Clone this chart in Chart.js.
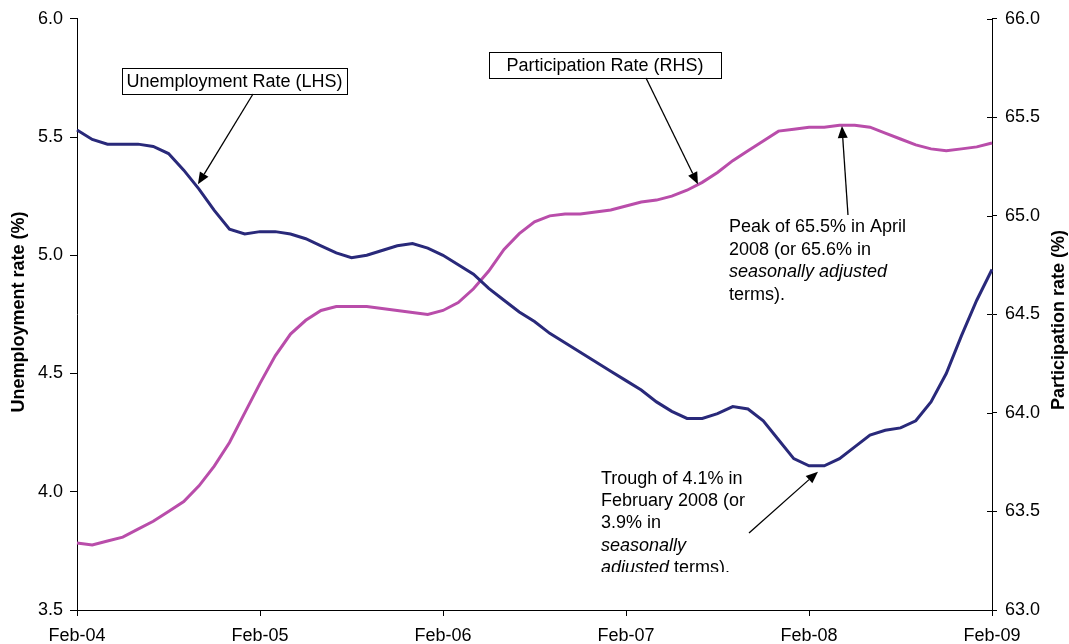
<!DOCTYPE html>
<html>
<head>
<meta charset="utf-8">
<script src="https://cdn.jsdelivr.net/npm/chart.js@4"></script>
<style>
html,body{margin:0;padding:0;background:#fff;}
canvas{display:block;}
</style>
</head>
<body>
<canvas id="c" width="1069" height="644"></canvas>
<script>
const months = ['Feb-04','Mar-04','Apr-04','May-04','Jun-04','Jul-04','Aug-04','Sep-04','Oct-04','Nov-04','Dec-04','Jan-05',
  'Feb-05','Mar-05','Apr-05','May-05','Jun-05','Jul-05','Aug-05','Sep-05','Oct-05','Nov-05','Dec-05','Jan-06',
  'Feb-06','Mar-06','Apr-06','May-06','Jun-06','Jul-06','Aug-06','Sep-06','Oct-06','Nov-06','Dec-06','Jan-07',
  'Feb-07','Mar-07','Apr-07','May-07','Jun-07','Jul-07','Aug-07','Sep-07','Oct-07','Nov-07','Dec-07','Jan-08',
  'Feb-08','Mar-08','Apr-08','May-08','Jun-08','Jul-08','Aug-08','Sep-08','Oct-08','Nov-08','Dec-08','Jan-09',
  'Feb-09'];
const tickLabels = ['Feb-04','Feb-05','Feb-06','Feb-07','Feb-08','Feb-09'];

const unemployment = [5.53,5.49,5.47,5.47,5.47,5.46,5.43,5.36,5.28,5.19,5.11,5.09,
  5.10,5.10,5.09,5.07,5.04,5.01,4.99,5.00,5.02,5.04,5.05,5.03,
  5.00,4.96,4.92,4.86,4.81,4.76,4.72,4.67,4.63,4.59,4.55,4.51,
  4.47,4.43,4.38,4.34,4.31,4.31,4.33,4.36,4.35,4.30,4.22,4.14,
  4.11,4.11,4.14,4.19,4.24,4.26,4.27,4.30,4.38,4.50,4.66,4.81,
  4.94];
const participation = [63.34,63.33,63.35,63.37,63.41,63.45,63.50,63.55,63.63,63.73,63.85,64.00,
  64.15,64.29,64.40,64.47,64.52,64.54,64.54,64.54,64.53,64.52,64.51,64.50,
  64.52,64.56,64.63,64.72,64.83,64.91,64.97,65.00,65.01,65.01,65.02,65.03,
  65.05,65.07,65.08,65.10,65.13,65.17,65.22,65.28,65.33,65.38,65.43,65.44,
  65.45,65.45,65.46,65.46,65.45,65.42,65.39,65.36,65.34,65.33,65.34,65.35,
  65.37];

const FONT = "'Liberation Sans', Arial, sans-serif";

const annotations = {
  boxes: [
    {text: 'Unemployment Rate (LHS)', x1: 122, y1: 68, x2: 347, y2: 94},
    {text: 'Participation Rate (RHS)', x1: 489, y1: 52, x2: 721, y2: 78}
  ],
  arrows: [
    {from: [253, 94], tipIndex: 7.93, tipValue: 5.30, axis: 'yL'},
    {from: [646, 78], tipIndex: 40.72, tipValue: 65.16, axis: 'yR'},
    {from: [848, 215], tipIndex: 50.16, tipValue: 65.456, axis: 'yR'},
    {from: [749, 533], tipIndex: 48.59, tipValue: 4.085, axis: 'yL'}
  ],
  notes: [
    {x: 729, y: 232, lh: 22.5, clipBottom: null, lines: [
      [['Peak of 65.5% in April', false]],
      [['2008 (or 65.6% in', false]],
      [['seasonally adjusted', true]],
      [['terms).', false]]
    ]},
    {x: 601, y: 484, lh: 22.2, clipBottom: 572, lines: [
      [['Trough of 4.1% in', false]],
      [['February 2008 (or', false]],
      [['3.9% in', false]],
      [['seasonally', true]],
      [['adjusted', true], [' terms).', false]]
    ]}
  ]
};

const annotPlugin = {
  id: 'annot',
  afterDraw(chart) {
    const ctx = chart.ctx;
    const xs = chart.scales.x, yL = chart.scales.yL, yR = chart.scales.yR;
    const area = chart.chartArea;
    ctx.save();
    ctx.strokeStyle = '#000'; ctx.lineWidth = 1;
    yR.ticks.forEach((t, i) => {
      const y = Math.round(yR.getPixelForTick(i)) + 0.5;
      ctx.beginPath(); ctx.moveTo(area.right - 5, y); ctx.lineTo(area.right, y); ctx.stroke();
    });
    ctx.font = '18px ' + FONT;
    ctx.textAlign = 'center'; ctx.textBaseline = 'middle';
    annotations.boxes.forEach(b => {
      ctx.fillStyle = '#fff';
      ctx.fillRect(b.x1, b.y1, b.x2 - b.x1, b.y2 - b.y1);
      ctx.strokeStyle = '#000'; ctx.lineWidth = 1;
      ctx.strokeRect(b.x1 + 0.5, b.y1 + 0.5, b.x2 - b.x1, b.y2 - b.y1);
      ctx.fillStyle = '#000';
      ctx.fillText(b.text, (b.x1 + b.x2) / 2, (b.y1 + b.y2) / 2 + 1);
    });
    annotations.arrows.forEach(a => {
      const sc = a.axis === 'yL' ? yL : yR;
      const tx = xs.getPixelForValue(a.tipIndex), ty = sc.getPixelForValue(a.tipValue);
      const fx = a.from[0], fy = a.from[1];
      const ang = Math.atan2(ty - fy, tx - fx);
      const hl = 12, hw = 5;
      const bx = tx - hl * Math.cos(ang), by = ty - hl * Math.sin(ang);
      ctx.strokeStyle = '#000'; ctx.lineWidth = 1.3;
      ctx.beginPath(); ctx.moveTo(fx, fy); ctx.lineTo(bx, by); ctx.stroke();
      ctx.fillStyle = '#000';
      ctx.beginPath();
      ctx.moveTo(tx, ty);
      ctx.lineTo(bx + hw * Math.sin(ang), by - hw * Math.cos(ang));
      ctx.lineTo(bx - hw * Math.sin(ang), by + hw * Math.cos(ang));
      ctx.closePath(); ctx.fill();
    });
    ctx.textAlign = 'left'; ctx.textBaseline = 'alphabetic'; ctx.fillStyle = '#000';
    annotations.notes.forEach(n => {
      ctx.save();
      if (n.clipBottom) { ctx.beginPath(); ctx.rect(0, 0, chart.width, n.clipBottom); ctx.clip(); }
      n.lines.forEach((line, i) => {
        let x = n.x;
        const y = n.y + i * n.lh;
        line.forEach(([txt, it]) => {
          ctx.font = (it ? 'italic ' : '') + '18px ' + FONT;
          ctx.fillText(txt, x, y);
          x += ctx.measureText(txt).width;
        });
      });
      ctx.restore();
    });
    ctx.font = 'bold 18px ' + FONT;
    ctx.textAlign = 'center'; ctx.textBaseline = 'middle';
    ctx.save(); ctx.translate(19, 312); ctx.rotate(-Math.PI / 2);
    ctx.fillText('Unemployment rate (%)', 0, 0); ctx.restore();
    ctx.save(); ctx.translate(1059, 320); ctx.rotate(-Math.PI / 2);
    ctx.fillText('Participation rate (%)', 0, 0); ctx.restore();
    ctx.restore();
  }
};

new Chart(document.getElementById('c'), {
  type: 'line',
  data: {
    labels: months,
    datasets: [
      {label: 'Unemployment Rate (LHS)', data: unemployment, yAxisID: 'yL',
       borderColor: '#29297A', borderWidth: 3, pointRadius: 0, tension: 0, fill: false},
      {label: 'Participation Rate (RHS)', data: participation, yAxisID: 'yR',
       borderColor: '#B94DAA', borderWidth: 3, pointRadius: 0, tension: 0, fill: false}
    ]
  },
  options: {
    responsive: false,
    animation: false,
    layout: {padding: {top: 11, left: 0, right: 0, bottom: 0}},
    plugins: {legend: {display: false}, tooltip: {enabled: false}, title: {display: false}},
    scales: {
      x: {
        type: 'category', offset: false,
        border: {display: true, color: '#000', width: 1},
        grid: {drawOnChartArea: false, tickLength: 6,
               color: c => (c.index % 12 === 0 ? '#000' : 'rgba(0,0,0,0)')},
        ticks: {autoSkip: false, maxRotation: 0, minRotation: 0, padding: 9, color: '#000',
                font: {family: FONT, size: 18},
                callback: function(v, i) { const l = months[i]; return tickLabels.includes(l) ? l : ''; }},
        afterFit: s => { s.height = 34; }
      },
      yL: {
        position: 'left', min: 3.5, max: 6.0,
        border: {display: true, color: '#000', width: 1},
        grid: {drawOnChartArea: false, tickLength: 7, color: '#000'},
        ticks: {stepSize: 0.5, padding: 7, color: '#000', font: {family: FONT, size: 18},
                callback: v => Number(v).toFixed(1)},
        afterFit: s => { s.width = 77; }
      },
      yR: {
        position: 'right', min: 63.0, max: 66.0,
        border: {display: true, color: '#000', width: 1},
        grid: {drawOnChartArea: false, tickLength: 5, color: '#000'},
        ticks: {stepSize: 0.5, padding: 8, color: '#000', font: {family: FONT, size: 18},
                callback: v => Number(v).toFixed(1)},
        afterFit: s => { s.width = 77; }
      }
    }
  },
  plugins: [annotPlugin]
});
</script>
</body>
</html>
